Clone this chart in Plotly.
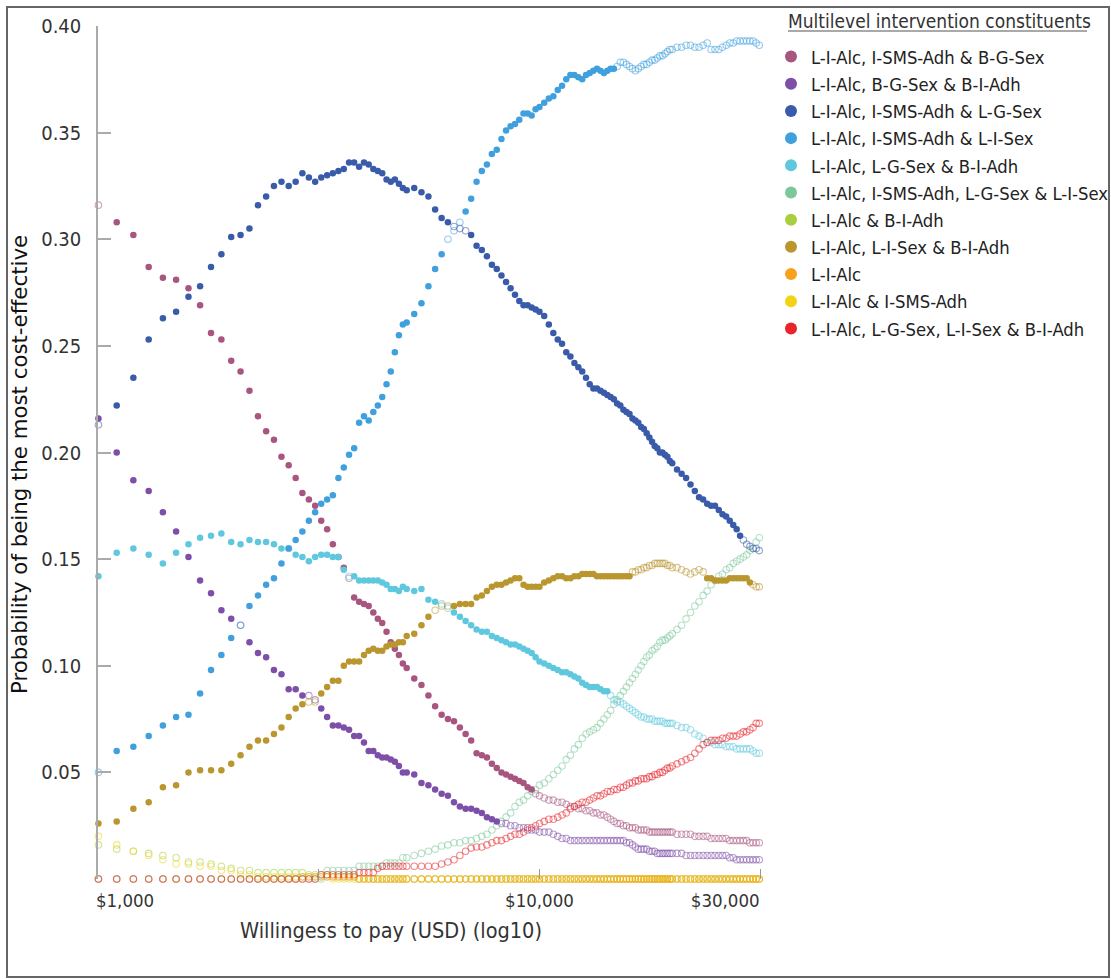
import plotly.graph_objects as go

# Willingness-to-pay grid (USD)
WTP = [
    1000, 1100, 1200, 1300, 1400, 1500, 1600, 1700, 1800, 1900,
    2000, 2100, 2200, 2300, 2400, 2500, 2600, 2700, 2800, 2900,
    3000, 3100, 3200, 3300, 3400, 3500, 3600, 3700, 3800, 3900,
    4000, 4100, 4200, 4300, 4400, 4500, 4600, 4700, 4800, 4900, 5000,
    5200, 5400, 5600, 5800, 6000, 6200, 6400, 6600, 6800, 7000,
    7200, 7400, 7600, 7800, 8000, 8200, 8400, 8600, 8800, 9000,
    9200, 9400, 9600, 9800, 10000,
    10250, 10500, 10750, 11000, 11250, 11500, 11750, 12000, 12250, 12500,
    12750, 13000, 13250, 13500, 13750, 14000, 14250, 14500, 14750, 15000,
    15250, 15500, 15750, 16000, 16250, 16500, 16750, 17000, 17250, 17500,
    17750, 18000, 18250, 18500, 18750, 19000, 19250, 19500, 19750, 20000,
    20500, 21000, 21500, 22000, 22500, 23000, 23500, 24000, 24500, 25000,
    25500, 26000, 26500, 27000, 27500, 28000, 28500, 29000, 29500, 30000,
    30500, 31000, 31500,
]

# Probability of being the most cost-effective, per combination
P_ALC_SMS_BGSEX = [
    .316, .308, .302, .287, .282, .281, .277, .269, .256, .253,
    .243, .238, .229, .217, .210, .206, .198, .194, .188, .181,
    .178, .175, .168, .164, .157, .151, .146, .141, .132, .130,
    .129, .128, .125, .122, .120, .116, .111, .108, .105, .101, .099,
    .094, .091, .086, .081, .077, .075, .074, .071, .068, .065,
    .059, .058, .057, .054, .052, .050, .049, .048, .047, .046,
    .045, .043, .042, .040, .039,
    .038, .037, .037, .036, .036, .035, .034, .034, .033, .033,
    .032, .032, .031, .031, .030, .030, .029, .028, .027, .026,
    .026, .025, .025, .024, .024, .024, .023, .023, .023, .023,
    .022, .022, .022, .022, .022, .022, .022, .022, .022, .022,
    .021, .021, .021, .021, .020, .020, .020, .020, .019, .019,
    .019, .019, .019, .018, .018, .018, .018, .018, .018, .017,
    .017, .017, .017,
]
P_ALC_BGSEX_BADH = [
    .216, .200, .187, .182, .172, .163, .151, .140, .134, .126,
    .122, .119, .111, .106, .104, .098, .096, .089, .089, .086,
    .086, .084, .080, .076, .072, .072, .071, .070, .067, .067,
    .064, .060, .060, .058, .057, .057, .056, .055, .053, .050, .050,
    .049, .045, .044, .042, .040, .039, .036, .034, .033, .033,
    .032, .031, .029, .028, .027, .026, .026, .025, .025, .024,
    .024, .023, .023, .023, .022,
    .022, .022, .021, .020, .019, .019, .018, .018, .018, .018,
    .018, .018, .018, .018, .018, .018, .018, .018, .018, .018,
    .018, .018, .017, .017, .016, .015, .014, .014, .014, .014,
    .013, .013, .013, .012, .012, .012, .012, .012, .012, .012,
    .012, .012, .011, .011, .011, .011, .011, .011, .011, .011,
    .011, .011, .011, .010, .010, .009, .009, .009, .009, .009,
    .009, .009, .009,
]
P_ALC_SMS_LGSEX = [
    .213, .222, .235, .253, .263, .266, .273, .278, .287, .293,
    .301, .302, .305, .316, .320, .325, .327, .325, .327, .331,
    .329, .327, .329, .330, .331, .332, .333, .336, .336, .334,
    .336, .335, .333, .332, .331, .328, .327, .328, .326, .324, .323,
    .324, .322, .320, .314, .310, .308, .306, .305, .304, .302,
    .297, .295, .292, .288, .286, .283, .280, .277, .274, .271,
    .269, .269, .268, .267, .266,
    .264, .260, .256, .253, .251, .247, .245, .242, .240, .238,
    .235, .232, .230, .230, .229, .228, .227, .226, .225, .223,
    .222, .220, .219, .218, .216, .215, .214, .212, .211, .209,
    .207, .205, .203, .202, .200, .200, .199, .198, .196, .195,
    .192, .190, .188, .185, .182, .179, .178, .176, .175, .175,
    .173, .171, .170, .168, .166, .164, .161, .159, .157, .156,
    .155, .155, .154,
]
P_ALC_SMS_LISEX = [
    .050, .060, .062, .067, .072, .076, .077, .087, .098, .105,
    .113, .119, .128, .133, .138, .141, .148, .155, .159, .163,
    .168, .172, .176, .178, .180, .188, .193, .199, .202, .214,
    .217, .215, .219, .222, .226, .232, .238, .247, .255, .260, .261,
    .265, .270, .278, .286, .293, .300, .304, .308, .313, .319,
    .327, .332, .335, .340, .342, .347, .351, .353, .354, .356,
    .359, .359, .358, .361, .362,
    .364, .366, .367, .370, .372, .375, .377, .377, .376, .375,
    .377, .378, .379, .380, .379, .378, .379, .380, .380, .381,
    .383, .383, .382, .381, .380, .379, .380, .381, .382, .382,
    .383, .384, .384, .385, .386, .386, .387, .388, .389, .389,
    .390, .390, .391, .391, .390, .390, .391, .392, .389, .389,
    .389, .390, .391, .392, .392, .393, .393, .393, .393, .393,
    .393, .392, .391,
]
P_ALC_LGSEX_BADH = [
    .142, .153, .155, .152, .148, .153, .157, .160, .161, .162,
    .158, .157, .159, .158, .158, .157, .155, .155, .152, .151,
    .149, .151, .152, .152, .151, .151, .145, .142, .142, .140,
    .140, .140, .140, .140, .139, .138, .136, .136, .135, .137, .136,
    .135, .136, .131, .130, .129, .127, .125, .123, .121, .119,
    .117, .116, .116, .114, .113, .112, .111, .110, .110, .109,
    .108, .107, .106, .104, .102,
    .101, .100, .099, .098, .097, .097, .096, .095, .094, .092,
    .091, .090, .090, .090, .089, .088, .088, .086, .084, .083,
    .083, .082, .081, .080, .079, .078, .077, .076, .076, .075,
    .075, .075, .074, .074, .074, .074, .073, .073, .073, .073,
    .072, .071, .071, .070, .068, .067, .066, .064, .064, .063,
    .063, .063, .062, .062, .062, .061, .061, .061, .061, .061,
    .060, .059, .059,
]
P_ALC_SMS_LGSEX_LISEX = [
    0, 0, 0, 0, 0, 0, 0, 0, 0, 0,
    0, 0, 0, 0, 0, 0, 0, 0, 0, 0,
    0, 0, 0, .004, .004, .004, .004, .004, .004, .006,
    .006, .006, .006, .006, .006, .0075, .0075, .0075, .0075, .010, .010,
    .011, .012, .013, .014, .0155, .016, .017, .017, .018, .018,
    .019, .020, .021, .023, .025, .027, .029, .031, .034, .036,
    .037, .039, .041, .042, .044,
    .045, .047, .049, .051, .053, .056, .058, .061, .063, .066,
    .068, .069, .070, .071, .073, .075, .077, .079, .082, .084,
    .086, .088, .090, .092, .094, .096, .098, .100, .102, .104,
    .105, .107, .108, .109, .111, .112, .112, .113, .114, .115,
    .117, .119, .122, .125, .128, .130, .133, .135, .138, .140,
    .142, .143, .145, .146, .148, .149, .150, .151, .152, .154,
    .155, .158, .160,
]
P_ALC_BADH = [
    .016, .014, .013, .012, .011, .010, .008, .008, .007, .006,
    .005, .004, .004, .003, .003, .003, .003, .003, .003, .003,
    .002, .002, .002, .002, .001, .001, .001, .001, .001, 0,
    0, 0, 0, 0, 0, 0, 0, 0, 0, 0, 0,
    0, 0, 0, 0, 0, 0, 0, 0, 0, 0,
    0, 0, 0, 0, 0, 0, 0, 0, 0, 0,
    0, 0, 0, 0, 0,
    0, 0, 0, 0, 0, 0, 0, 0, 0, 0,
    0, 0, 0, 0, 0, 0, 0, 0, 0, 0,
    0, 0, 0, 0, 0, 0, 0, 0, 0, 0,
    0, 0, 0, 0, 0, 0, 0, 0, 0, 0,
    0, 0, 0, 0, 0, 0, 0, 0, 0, 0,
    0, 0, 0, 0, 0, 0, 0, 0, 0, 0,
    0, 0, 0,
]
P_ALC_LISEX_BADH = [
    .026, .027, .033, .036, .043, .044, .050, .051, .051, .051,
    .054, .058, .062, .065, .065, .068, .071, .076, .080, .082,
    .083, .083, .087, .090, .093, .093, .100, .102, .102, .102,
    .105, .107, .108, .107, .107, .109, .110, .110, .111, .111, .114,
    .115, .119, .123, .126, .128, .128, .128, .129, .129, .129,
    .132, .133, .135, .137, .138, .138, .139, .140, .141, .141,
    .138, .137, .137, .137, .137,
    .139, .140, .141, .142, .142, .141, .141, .142, .142, .143,
    .143, .143, .143, .142, .142, .142, .142, .142, .142, .142,
    .142, .142, .142, .142, .144, .144, .145, .145, .146, .146,
    .147, .147, .148, .148, .148, .148, .148, .147, .147, .146,
    .146, .145, .144, .143, .144, .145, .144, .141, .141, .140,
    .140, .140, .140, .141, .141, .141, .141, .141, .141, .139,
    .138, .137, .137,
]
P_ALC = [
    0, 0, 0, 0, 0, 0, 0, 0, 0, 0,
    0, 0, 0, 0, 0, 0, 0, 0, 0, .001,
    .001, .001, .001, .001, .001, .001, .001, .001, .001, 0,
    0, 0, 0, 0, 0, 0, 0, 0, 0, 0, 0,
    0, 0, 0, 0, 0, 0, 0, 0, 0, 0,
    0, 0, 0, 0, 0, 0, 0, 0, 0, 0,
    0, 0, 0, 0, 0,
    0, 0, 0, 0, 0, 0, 0, 0, 0, 0,
    0, 0, 0, 0, 0, 0, 0, 0, 0, 0,
    0, 0, 0, 0, 0, 0, 0, 0, 0, 0,
    0, 0, 0, 0, 0, 0, 0, 0, 0, 0,
    0, 0, 0, 0, 0, 0, 0, 0, 0, 0,
    0, 0, 0, 0, 0, 0, 0, 0, 0, 0,
    0, 0, 0,
]
P_ALC_SMS = [
    .020, .016, .013, .011, .009, .007, .007, .006, .006, .004,
    .004, .002, .002, .001, .001, .001, .001, .001, .001, .001,
    .001, .001, .001, .001, 0, 0, 0, 0, 0, 0,
    0, 0, 0, 0, 0, 0, 0, 0, 0, 0, 0,
    0, 0, 0, 0, 0, 0, 0, 0, 0, 0,
    0, 0, 0, 0, 0, 0, 0, 0, 0, 0,
    0, 0, 0, 0, 0,
    0, 0, 0, 0, 0, 0, 0, 0, 0, 0,
    0, 0, 0, 0, 0, 0, 0, 0, 0, 0,
    0, 0, 0, 0, 0, 0, 0, 0, 0, 0,
    0, 0, 0, 0, 0, 0, 0, 0, 0, 0,
    0, 0, 0, 0, 0, 0, 0, 0, 0, 0,
    0, 0, 0, 0, 0, 0, 0, 0, 0, 0,
    0, 0, 0,
]
P_ALC_LGSEX_LISEX_BADH = [
    0, 0, 0, 0, 0, 0, 0, 0, 0, 0,
    0, 0, 0, 0, 0, 0, 0, 0, 0, 0,
    0, 0, .002, .002, .002, .002, .002, .002, .002, .003,
    .003, .003, .003, .005, .006, .006, .006, .006, .006, .006, .006,
    .006, .006, .006, .006, .007, .008, .009, .011, .013, .0145,
    .015, .015, .016, .017, .018, .018, .019, .020, .021, .021,
    .022, .024, .024, .025, .026,
    .027, .028, .028, .029, .030, .031, .033, .034, .035, .036,
    .036, .037, .038, .039, .039, .040, .041, .041, .042, .042,
    .043, .043, .044, .045, .045, .046, .046, .047, .047, .047,
    .048, .048, .049, .049, .050, .050, .051, .052, .052, .053,
    .054, .055, .056, .057, .059, .061, .063, .064, .065, .065,
    .065, .066, .066, .067, .067, .067, .068, .069, .069, .070,
    .071, .073, .073,
]

LABELS = [
    "L-I-Alc, I-SMS-Adh & B-G-Sex",
    "L-I-Alc, B-G-Sex & B-I-Adh",
    "L-I-Alc, I-SMS-Adh & L-G-Sex",
    "L-I-Alc, I-SMS-Adh & L-I-Sex",
    "L-I-Alc, L-G-Sex & B-I-Adh",
    "L-I-Alc, I-SMS-Adh, L-G-Sex & L-I-Sex",
    "L-I-Alc & B-I-Adh",
    "L-I-Alc, L-I-Sex & B-I-Adh",
    "L-I-Alc",
    "L-I-Alc & I-SMS-Adh",
    "L-I-Alc, L-G-Sex, L-I-Sex & B-I-Adh",
]
VALUES = [
    P_ALC_SMS_BGSEX, P_ALC_BGSEX_BADH, P_ALC_SMS_LGSEX, P_ALC_SMS_LISEX,
    P_ALC_LGSEX_BADH, P_ALC_SMS_LGSEX_LISEX, P_ALC_BADH, P_ALC_LISEX_BADH,
    P_ALC, P_ALC_SMS, P_ALC_LGSEX_LISEX_BADH,
]
COLORS = [
    (168, 85, 127), (125, 79, 168), (58, 91, 169), (64, 160, 222),
    (95, 200, 222), (124, 200, 154), (168, 207, 62), (186, 150, 47),
    (247, 161, 28), (242, 211, 23), (232, 37, 43),
]
# WTP spans drawn with hollow markers
HOLLOW = [
    [(1000, 1000), (3700, 3700), (9800, 31500)],
    [(2100, 2100), (3000, 3100), (8200, 31500)],
    [(1000, 1000), (6400, 6800), (29000, 31500)],
    [(1000, 1000), (2100, 2100), (6200, 6600), (15000, 31500)],
    [(2700, 2700), (3700, 3700), (6000, 6200), (14500, 31500)],
    [(1000, 31500)],
    [(1000, 31500)],
    [(3000, 3100), (5800, 6200), (16250, 23500), (30500, 31500)],
    [(1000, 31500)],
    [(1000, 31500)],
    [(1000, 31500)],
]
# stacking order of the hollow layers (last on top)
HOLLOW_ORDER = [6, 9, 8, 5, 0, 1, 2, 3, 4, 7, 10]

COND = "DejaVu Sans Condensed, Liberation Sans Narrow, sans-serif"

W, H = 1111, 979
L, R, T, B = 98, 760, 26, 879  # plot area in pixels


def px(x):
    return (x - L) / (R - L)


def py(y):
    return (B - y) / (B - T)


def hollow_mask(spans):
    return [any(a <= w <= b for a, b in spans) for w in WTP]


fig = go.Figure()

for i in HOLLOW_ORDER:
    col, vals, mask = COLORS[i], VALUES[i], hollow_mask(HOLLOW[i])
    rgba = "rgba(%d,%d,%d,0.55)" % col
    fig.add_trace(go.Scatter(
        x=WTP, y=[v if h else None for v, h in zip(vals, mask)],
        mode="markers", showlegend=False, cliponaxis=False, name=LABELS[i],
        marker=dict(symbol="circle-open", size=6.5, color=rgba,
                    line=dict(width=1.1, color=rgba)),
        hoverinfo="skip",
    ))

for lab, vals, col, spans in zip(LABELS, VALUES, COLORS, HOLLOW):
    mask = hollow_mask(spans)
    fig.add_trace(go.Scatter(
        x=WTP, y=[None if h else v for v, h in zip(vals, mask)],
        mode="markers", cliponaxis=False,
        name="<span style='font-size:18.3px'>%s</span>" % lab,
        marker=dict(symbol="circle", size=6.5, color="rgb(%d,%d,%d)" % col,
                    line=dict(width=0)),
    ))

fig.update_layout(
    width=W, height=H, autosize=False,
    margin=dict(l=L, r=W - R, t=T, b=H - B, pad=0, autoexpand=False),
    paper_bgcolor="white", plot_bgcolor="white",
    font=dict(family=COND, color="#333333"),
    showlegend=True,
    legend=dict(
        x=px(771), xanchor="left", y=py(38), yanchor="top",
        font=dict(family=COND, size=18.6, color="#222222"),
        itemsizing="constant", bgcolor="rgba(0,0,0,0)", borderwidth=0,
        tracegroupgap=0,
    ),
    xaxis=dict(
        type="log", range=[2.999, 4.5], showgrid=False, zeroline=False,
        showline=False,
        tickmode="array", tickvals=[1149, 10000, 26370],
        ticktext=["$1,000", "$10,000", "$30,000"],
        ticks="", tickfont=dict(family=COND, size=18.5, color="#333333"),
        ticklabelstandoff=8,
        minor=dict(tickmode="array", tickvals=[3162.3, 10000, 31622.8],
                   ticks="inside", ticklen=10, tickcolor="#999999",
                   tickwidth=1, showgrid=False),
    ),
    yaxis=dict(
        range=[0, 0.40], showgrid=False, zeroline=False,
        showline=True, linecolor="#aaaaaa", linewidth=1.5,
        tickmode="array",
        tickvals=[0, 0.05, 0.10, 0.15, 0.20, 0.25, 0.30, 0.35, 0.40],
        ticktext=["", "0.05", "0.10", "0.15", "0.20", "0.25", "0.30", "0.35", "0.40"],
        ticks="inside", ticklen=13, tickcolor="#aaaaaa", tickwidth=1.5,
        tickfont=dict(family=COND, size=20, color="#333333"),
        ticklabelstandoff=11,
    ),
    annotations=[
        dict(text="Willingess to pay (USD) (log10)", xref="paper", yref="paper",
             x=px(391), y=py(930), xanchor="center", yanchor="middle",
             showarrow=False, font=dict(family=COND, size=21.5, color="#333333")),
        dict(text="Probability of being the most cost-effective", xref="paper",
             yref="paper", x=px(20), y=py(465), xanchor="center", yanchor="middle",
             textangle=-90, showarrow=False,
             font=dict(family="DejaVu Sans, sans-serif", size=21.3, color="#111111")),
        dict(text="Multilevel intervention constituents", xref="paper", yref="paper",
             x=px(786), y=py(21), xanchor="left", yanchor="middle", showarrow=False,
             font=dict(family=COND, size=19, color="#333333")),
    ],
    shapes=[
        dict(type="line", xref="paper", yref="paper", x0=px(788), x1=px(1087),
             y0=py(31), y1=py(31), line=dict(color="#555555", width=1.2)),
        dict(type="rect", xref="paper", yref="paper", x0=px(7), x1=px(1109),
             y0=py(977), y1=py(7), line=dict(color="#666666", width=2),
             fillcolor="rgba(0,0,0,0)", layer="below"),
    ],
)

fig.write_html("out.html")
